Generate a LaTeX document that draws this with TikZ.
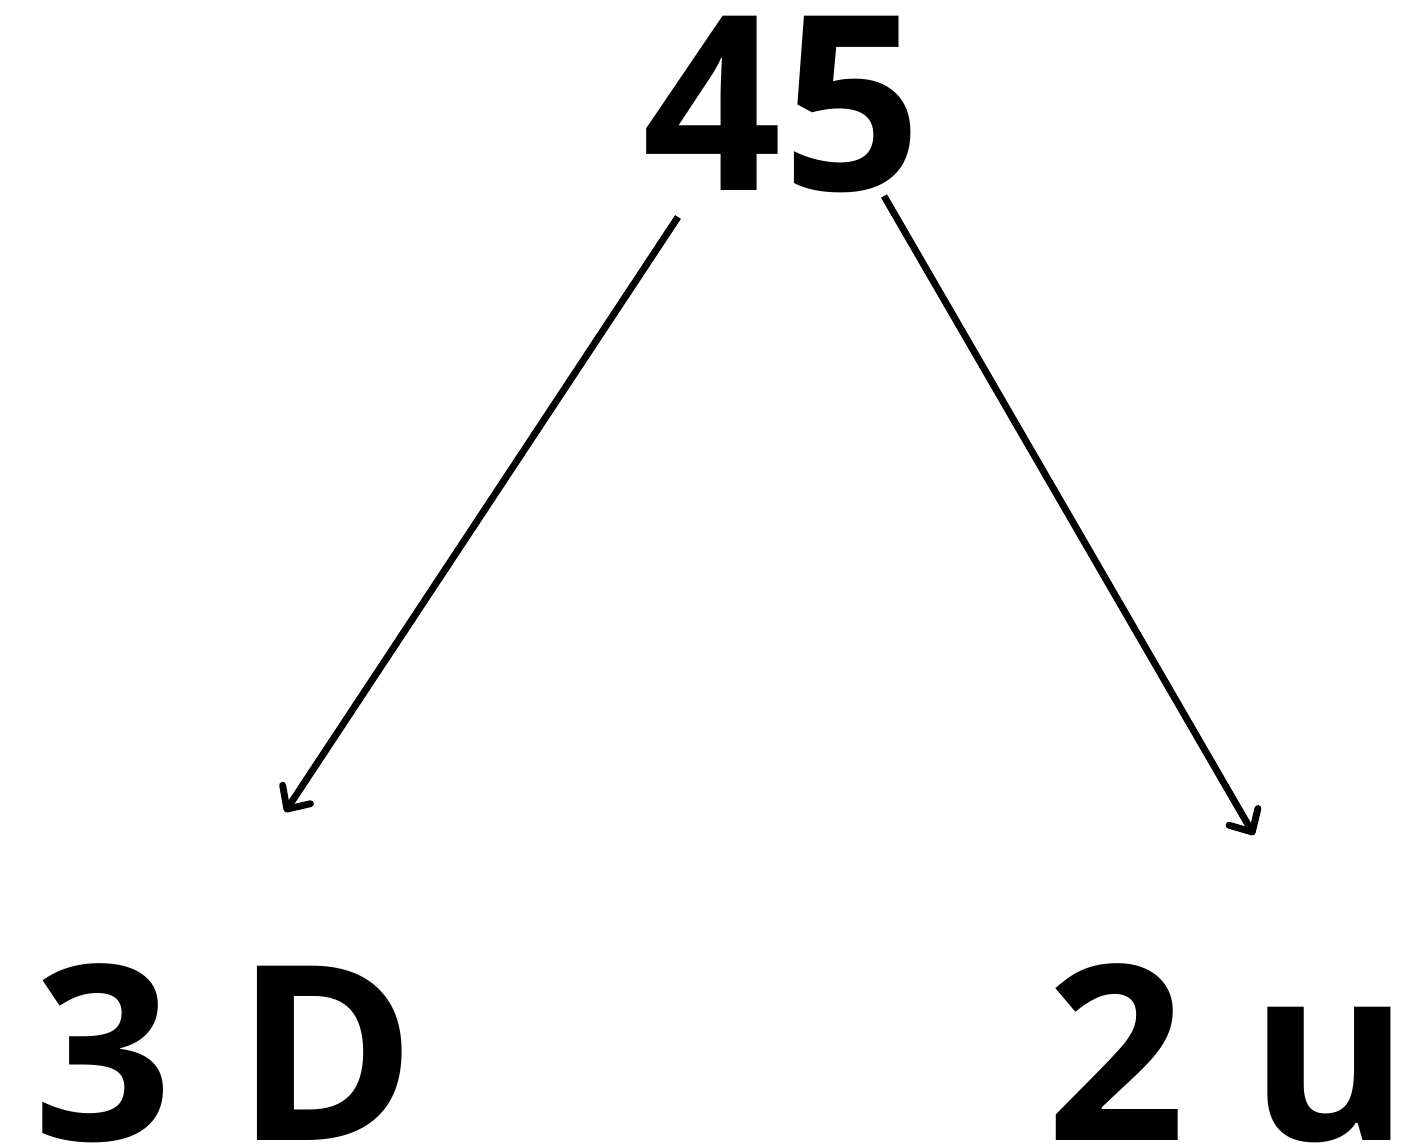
\documentclass[tikz,border=0pt]{standalone}
\usepackage{fontspec}
\setmainfont{Open Sans}
\usetikzlibrary{arrows.meta}
\tikzset{
  bigtxt/.style={anchor=base, inner sep=0pt, font=\bfseries\fontsize{139}{139}\selectfont},
  arr/.style={line width=3.9pt, -{Straight Barb[round, length=10pt, width=19pt, line width=3.9pt]}}
}
\begin{document}
\begin{tikzpicture}[x=0.02cm, y=-0.02cm]
  \useasboundingbox (0,0) rectangle (1414,1147);
  % Numbers and labels
  \node[bigtxt] (top) at (782,190) {45};
  \node[bigtxt] (left) at (225,1140) {3 D};
  \node[bigtxt] (right) at (1228,1140) {2 u};
  % Arrow ends
  \path
    (678,217) coordinate (L1)
    (285,812) coordinate (L2)
    (884,196) coordinate (R1)
    (1254,835) coordinate (R2)
  ;
  \draw[arr] (L1) -- (L2);
  \draw[arr] (R1) -- (R2);
\end{tikzpicture}
\end{document}
